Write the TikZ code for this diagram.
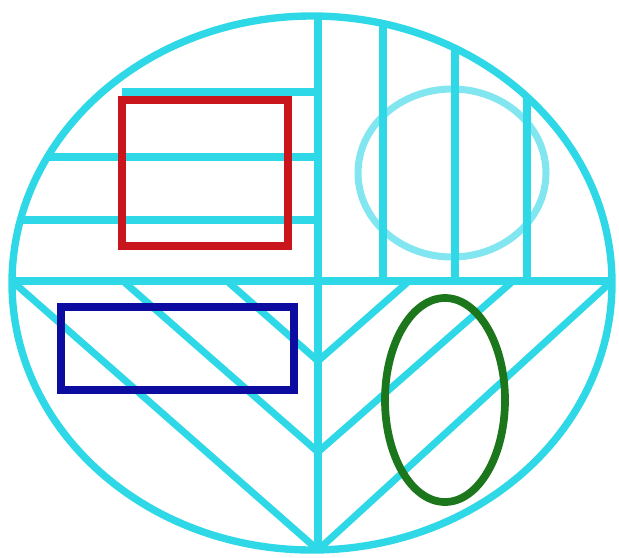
\documentclass[tikz,border=0pt]{standalone}
\usetikzlibrary{calc}
\definecolor{FigCiano}{RGB}{46,216,230}
\definecolor{FigCianoClaro}{RGB}{130,230,240}
\definecolor{FigVermelho}{RGB}{200,22,28}
\definecolor{FigAzul}{RGB}{12,12,160}
\definecolor{FigVerde}{RGB}{28,118,28}
\tikzset{
  traco/.style={draw=FigCiano, line width=4pt},
  contorno/.style={draw=FigCiano, line width=4.2pt},
  circclaro/.style={draw=FigCianoClaro, line width=4pt},
  retvermelho/.style={draw=FigVermelho, line width=4.2pt},
  retazul/.style={draw=FigAzul, line width=4.6pt},
  elipverde/.style={draw=FigVerde, line width=4.4pt},
}
\begin{document}
\begin{tikzpicture}[x=0.02cm, y=-0.02cm]
  \useasboundingbox (0,0) rectangle (619,558);
  \coordinate (centro) at (312,283);
  \coordinate (esq) at (12,281);
  \coordinate (dir) at (612,281);
  \coordinate (fundo) at (318,550);

  % círculo claro, fica atrás das linhas verticais
  \draw[circclaro] (452,173) ellipse [x radius=94, y radius=84];

  % linhas internas, recortadas pela elipse grande
  \begin{scope}
    \clip (centro) ellipse [x radius=300, y radius=267];
    \draw[traco] (esq) -- (dir);
    \draw[traco] (318,0) -- (fundo);
    \foreach \x in {383,455,527}{
      \draw[traco] (\x,0) -- (\x,281);
    }
    \draw[traco] (122,92) -- (318,92);
    \foreach \y in {157,220}{
      \draw[traco] (0,\y) -- (318,\y);
    }
    % diagonais em V no semicírculo de baixo
    \foreach \e/\d/\v in {12/612/550, 123/513/452, 227/409/361}{
      \draw[traco] (\e,281) -- (318,\v) -- (\d,281);
    }
  \end{scope}
  \draw[contorno] (centro) ellipse [x radius=300, y radius=267];

  % figuras coloridas por cima
  \draw[retvermelho] (122,100) rectangle (288,246);
  \draw[retazul] (61,307) rectangle (294,390);
  \draw[elipverde] (445,400) ellipse [x radius=60, y radius=102];
\end{tikzpicture}
\end{document}
